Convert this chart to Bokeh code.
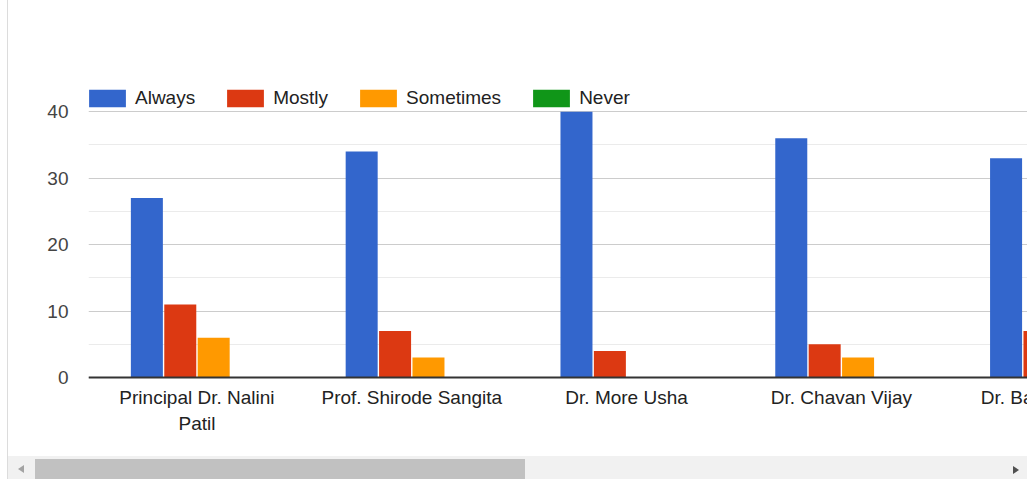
from bokeh.plotting import figure
from bokeh.models import (Range1d, FixedTicker, Legend, LegendItem, Span,
                          Div, ColumnDataSource)
from bokeh.layouts import column
from bokeh.embed import file_html
from bokeh.resources import INLINE

# ---- data ----
categories = ["Principal Dr. Nalini\nPatil", "Prof. Shirode Sangita", "Dr. More Usha",
              "Dr. Chavan Vijay", "Dr. Bachhav Sunil"]
series = ["Always", "Mostly", "Sometimes", "Never"]
always = [27, 34, 40, 36, 33]
mostly = [11, 7, 4, 5, 7]
sometimes = [6, 3, 0, 3, 2]
never = [0, 0, 0, 0, 0]
y_ticks = [0, 10, 20, 30, 40]
y_minor = [5, 15, 25, 35, 45]

colors = ["#3366cc", "#dc3912", "#ff9900", "#109618"]
FONT = "Liberation Sans"

W, H = 1019, 456
LEFT, TOP = 80, 78
UNIT_X = 214.8            # pixels per category
PX_PER_Y = 299 / 45       # pixels per y unit
y_start = -(H - TOP - 299) / PX_PER_Y   # frame reaches down to hold the category labels

p = figure(width=W, height=H, output_backend="svg", toolbar_location=None,
           x_range=Range1d(-0.005, -0.005 + (W - LEFT) / UNIT_X),
           y_range=Range1d(y_start, 45),
           min_border_left=LEFT, min_border_right=0, min_border_top=TOP, min_border_bottom=0)
p.outline_line_color = None
p.background_fill_color = "white"
p.border_fill_color = "white"

slot = 0.1555
bar_w = 0.149
offsets = [-1.5 * slot, -0.5 * slot, 0.5 * slot, 1.5 * slot]
values = [always, mostly, sometimes, never]
centers = [i + 0.5 for i in range(len(categories))]

renderers = []
for name, vals, off, col in zip(series, values, offsets, colors):
    src = ColumnDataSource(dict(x=[c + off for c in centers], top=vals))
    r = p.vbar(x="x", top="top", bottom=0, width=bar_w, source=src,
               fill_color=col, line_color=None)
    renderers.append(r)

# baseline
p.add_layout(Span(location=0, dimension="width", line_color="#333333", line_width=2))

# category labels (drawn in the plot so the partly scrolled-off one is shown cut)
lab_src = ColumnDataSource(dict(x=centers, y=[0] * len(centers), text=categories))
p.text(x="x", y="y", text="text", source=lab_src, text_align="center",
       text_baseline="top", y_offset=9, text_font={"value": FONT},
       text_font_size="19px", text_color="#222222", text_line_height=1.25)

p.xaxis.visible = False

ya = p.yaxis[0]
ya.ticker = FixedTicker(ticks=y_ticks, minor_ticks=y_minor)
ya.axis_line_color = None
ya.major_tick_line_color = None
ya.minor_tick_line_color = None
ya.major_tick_out = 0
ya.major_tick_in = 0
ya.major_label_standoff = 16
ya.major_label_text_font = FONT
ya.major_label_text_font_size = "19px"
ya.major_label_text_color = "#444444"

p.xgrid.grid_line_color = None
p.ygrid.grid_line_color = "#cccccc"
p.ygrid.grid_line_width = 1
p.ygrid.minor_grid_line_color = "#ebebeb"
p.ygrid.minor_grid_line_width = 1

legend = Legend(items=[LegendItem(label=s, renderers=[r]) for s, r in zip(series, renderers)],
                orientation="horizontal", location=(-4, 347),
                glyph_width=46, glyph_height=22, label_height=22, label_standoff=5,
                spacing=27, padding=0, margin=0,
                background_fill_alpha=0, border_line_color=None,
                label_text_font=FONT, label_text_font_size="19px",
                label_text_color="#222222")
p.add_layout(legend)

scroll_html = """
<div style="position:relative;width:1019px;height:23px;background:#f1f1f1;overflow:hidden;">
  <div style="position:absolute;left:10px;top:9px;width:0;height:0;
       border-top:4.5px solid transparent;border-bottom:4.5px solid transparent;
       border-right:6px solid #a3a3a3;"></div>
  <div style="position:absolute;left:27px;top:3px;width:490px;height:20px;background:#c1c1c1;"></div>
  <div style="position:absolute;left:1005px;top:10px;width:0;height:0;
       border-top:4.5px solid transparent;border-bottom:4.5px solid transparent;
       border-left:6px solid #505050;"></div>
</div>
"""
scroll = Div(text=scroll_html, width=W, height=23, margin=(0, 0, 0, 0))

layout = column(p, scroll, spacing=0, margin=(0, 0, 0, 7),
                styles={"border-left": "1px solid #dcdcdc"})

open("out.html", "w").write(file_html(layout, INLINE))
